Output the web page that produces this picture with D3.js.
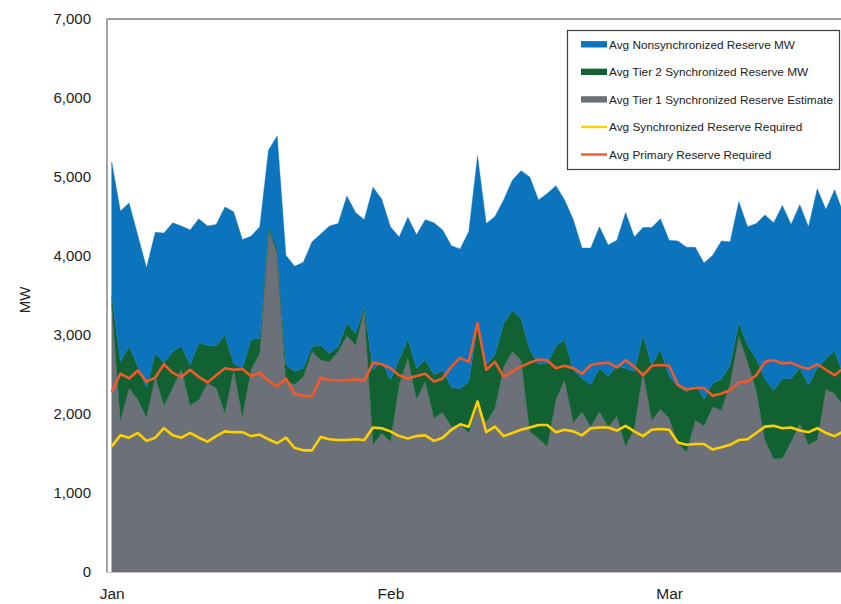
<!DOCTYPE html>
<html>
<head>
<meta charset="utf-8">
<script src="https://cdn.jsdelivr.net/npm/d3@7/dist/d3.min.js"></script>
<style>
  html, body { margin: 0; padding: 0; background: #ffffff; }
  svg { display: block; font-family: "Liberation Sans", Arial, Helvetica, sans-serif; }
</style>
</head>
<body>
<svg id="chart" width="841" height="604"></svg>
<script>
// ---------------- data (daily averages, starting Jan 1) ----------------
const tier1 = [3400,1920,2330,2180,1960,2470,2110,2330,2570,2110,
  2180,2390,2330,2010,2560,1970,2560,2770,4340,4040,
  2430,2370,2470,2790,2680,2660,2790,2990,2870,3320,
  1610,1760,1650,2370,2710,2190,2410,1950,2020,1840,
  1860,1760,2100,1900,2070,2600,2790,2680,1780,1690,
  1590,2180,2430,1890,2030,1840,2030,1840,1970,1590,
  1820,2540,1920,2060,1950,1630,1520,1920,1850,2090,
  2050,2390,2980,2660,2300,1670,1430,1440,1650,1880,
  1610,1670,2310,2260,2100];
const tier2 = [100,740,530,420,370,300,540,460,290,510,
  720,480,530,990,80,610,380,190,30,60,
  190,170,110,60,190,110,60,160,150,40,
  950,910,780,320,240,390,280,550,530,500,
  460,650,1030,720,680,550,520,530,1030,940,
  1050,680,510,670,420,530,550,640,630,990,
  720,460,700,760,520,720,760,450,340,300,
  390,230,180,210,400,770,870,1010,800,700,
  760,910,390,540,400];
const nonsync = [1690,1910,1810,1660,1520,1530,1640,1630,1520,1710,
  1570,1510,1540,1620,1920,1630,1310,1410,970,1420,
  1390,1330,1340,1330,1410,1610,1560,1610,1530,1100,
  2310,2050,1940,1550,1540,1690,1770,1920,1780,1790,
  1770,1900,2140,1790,1750,1560,1650,1870,2190,2080,
  2150,2030,1770,1900,1650,1730,1790,1660,1600,1970,
  1700,1360,1740,1650,1730,1840,1830,1740,1720,1620,
  1750,1560,1530,1500,1710,2080,2120,2190,1950,2070,
  2000,2270,1890,2040,2040];
const syncReq = [1590,1730,1700,1760,1660,1700,1820,1730,1700,1760,
  1700,1650,1720,1780,1770,1770,1720,1740,1680,1630,
  1700,1570,1540,1540,1710,1680,1670,1670,1680,1670,
  1830,1820,1780,1720,1690,1720,1730,1660,1700,1800,
  1870,1840,2160,1770,1840,1720,1760,1800,1830,1860,
  1860,1770,1800,1780,1730,1820,1830,1830,1790,1850,
  1780,1720,1800,1810,1800,1640,1610,1620,1620,1550,
  1580,1610,1670,1680,1760,1840,1850,1820,1830,1790,
  1770,1820,1760,1720,1780];
const primaryReq = [2280,2510,2450,2550,2410,2460,2630,2520,2470,2560,
  2470,2400,2490,2580,2560,2570,2480,2520,2420,2350,
  2450,2250,2230,2220,2460,2430,2420,2430,2440,2420,
  2650,2630,2580,2490,2450,2480,2510,2410,2450,2600,
  2710,2660,3150,2560,2660,2470,2540,2600,2650,2690,
  2680,2580,2610,2580,2510,2620,2640,2650,2590,2680,
  2600,2490,2610,2620,2610,2370,2310,2330,2330,2230,
  2260,2300,2400,2410,2490,2660,2680,2640,2650,2600,
  2570,2630,2560,2490,2580];

const monthLabels = ["Jan", "Feb", "Mar"];
const monthTickDays = [0, 32, 64];
const yTicks = [0, 1000, 2000, 3000, 4000, 5000, 6000, 7000];
const seriesNames = {
  nonsync: "Avg Nonsynchronized Reserve MW",
  tier2: "Avg Tier 2 Synchronized Reserve MW",
  tier1: "Avg Tier 1 Synchronized Reserve Estimate",
  syncReq: "Avg Synchronized Reserve Required",
  primaryReq: "Avg Primary Reserve Required"
};
const colors = {
  nonsync: "#0c74bc",
  tier2: "#126133",
  tier1: "#6b7079",
  syncReq: "#ffd000",
  primaryReq: "#f15a29"
};

// ---------------- layout ----------------
const svg = d3.select("#chart");
const W = 841, H = 604;
const plot = { left: 107, top: 19, bottom: 572, right: 900 };

const rows = tier1.map((v, i) => ({ day: i, tier1: v, tier2: tier2[i], nonsync: nonsync[i] }));

const x = d3.scaleLinear().domain([0, 89]).range([111.7, 111.7 + 89 * 8.71]);
const y = d3.scaleLinear().domain([0, 7000]).range([plot.bottom, plot.top]);

const stack = d3.stack().keys(["tier1", "tier2", "nonsync"]);
const layers = stack(rows);

const area = d3.area()
  .x(d => x(d.data.day))
  .y0(d => y(d[0]))
  .y1(d => y(d[1]));

svg.append("g").selectAll("path")
  .data(layers)
  .join("path")
  .attr("d", area)
  .attr("fill", d => colors[d.key])
  .attr("stroke", d => colors[d.key])
  .attr("stroke-width", 0.4);

const line = d3.line().x((d, i) => x(i)).y(d => y(d));

svg.append("path").datum(syncReq)
  .attr("d", line).attr("fill", "none")
  .attr("stroke", colors.syncReq).attr("stroke-width", 2.6)
  .attr("stroke-linejoin", "round");
svg.append("path").datum(primaryReq)
  .attr("d", line).attr("fill", "none")
  .attr("stroke", colors.primaryReq).attr("stroke-width", 2.6)
  .attr("stroke-linejoin", "round");

// plot frame
svg.append("line").attr("x1", plot.left).attr("x2", W).attr("y1", plot.top).attr("y2", plot.top)
  .attr("stroke", "#7f7f7f").attr("stroke-width", 1.3);
svg.append("line").attr("x1", plot.left).attr("x2", plot.left).attr("y1", plot.top).attr("y2", plot.bottom + 0.5)
  .attr("stroke", "#8c8c8c").attr("stroke-width", 1.6);
svg.append("line").attr("x1", plot.left).attr("x2", W).attr("y1", plot.bottom + 0.5).attr("y2", plot.bottom + 0.5)
  .attr("stroke", "#bfbfbf").attr("stroke-width", 1);

// y axis labels
const yAxis = d3.axisLeft(y).tickValues(yTicks).tickFormat(d3.format(",")).tickSize(0).tickPadding(16);
const gy = svg.append("g").attr("transform", `translate(${plot.left},0)`).call(yAxis);
gy.select(".domain").remove();
gy.selectAll("text").attr("font-size", 15).attr("fill", "#222")
  .attr("font-family", "'Liberation Sans', Arial, sans-serif");

// x axis labels
const xAxis = d3.axisBottom(x).tickValues(monthTickDays).tickFormat((d, i) => monthLabels[i]).tickSize(0).tickPadding(16);
const gx = svg.append("g").attr("transform", `translate(0,${plot.bottom})`).call(xAxis);
gx.select(".domain").remove();
gx.selectAll("text").attr("font-size", 15.5).attr("fill", "#222")
  .attr("font-family", "'Liberation Sans', Arial, sans-serif");

// y title
svg.append("text")
  .attr("transform", "translate(30,300) rotate(-90)")
  .attr("text-anchor", "middle")
  .attr("font-size", 15).attr("fill", "#222")
  .text("MW");

// legend
const legend = svg.append("g");
legend.append("rect").attr("x", 567.5).attr("y", 30.5).attr("width", 272).attr("height", 139)
  .attr("fill", "#ffffff").attr("stroke", "#404040").attr("stroke-width", 1.2);
const legendKeys = ["nonsync", "tier2", "tier1", "syncReq", "primaryReq"];
const legendY = d3.scalePoint().domain(legendKeys).range([44.3, 154.5]);
legendKeys.forEach((k, i) => {
  const cy = legendY(k);
  if (i < 3) {
    legend.append("rect").attr("x", 581).attr("y", cy - 3.2).attr("width", 26).attr("height", 6.4).attr("fill", colors[k]);
  } else {
    legend.append("line").attr("x1", 581).attr("x2", 607).attr("y1", cy).attr("y2", cy)
      .attr("stroke", colors[k]).attr("stroke-width", 2.4);
  }
  legend.append("text").attr("x", 609).attr("y", cy).attr("dy", "0.36em")
    .attr("font-size", 11.8).attr("fill", "#222").text(seriesNames[k]);
});
</script>
</body>
</html>
